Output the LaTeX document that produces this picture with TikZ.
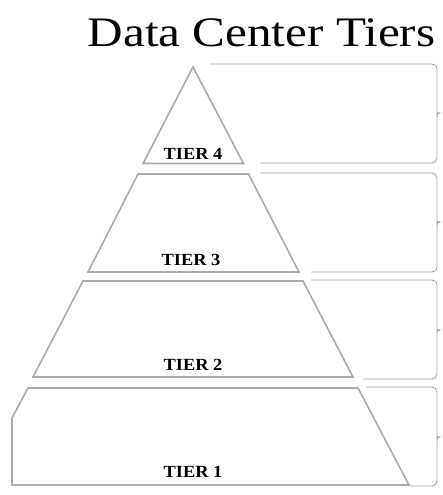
\documentclass[tikz,border=0pt]{standalone}
\usepackage{fontspec}
\setmainfont{Liberation Serif}
\tikzset{
  tierline/.style={draw=black!33, line width=1.6pt, line join=miter},
  braceline/.style={draw=black!35, line width=0.9pt, rounded corners=5pt},
  tierlabel/.style={font=\fontsize{17}{17}\selectfont\bfseries, text=black, anchor=base, inner sep=0pt, xscale=1.08, transform shape},
  titlelabel/.style={font=\fontsize{42}{42}\selectfont, text=black, anchor=base, inner sep=0pt, xscale=1.17, transform shape}
}
\newcommand\tierbrace[5]{% x1, ytop, x2, ybot, ymid
  \draw[braceline] (#1,#2) -- (437,#2) -- (437,#5-4) [sharp corners] .. controls (437,#5-1) and (437.5,#5) .. (439.8,#5)
     .. controls (437.5,#5) and (437,#5+1) .. (437,#5+4) [rounded corners=5pt] -- (437,#4) -- (#3,#4);
}
\begin{document}
\begin{tikzpicture}[x=1pt,y=-1pt]
\useasboundingbox (0,0) rectangle (443,495);
\node[titlelabel] (title) at (261.5,47) {Data Center Tiers};
% pyramid
\draw[tierline] (193,67) -- (243.5,163.5) -- (143,163.5) -- cycle;
\draw[tierline] (138,174) -- (248.5,174) -- (299,272) -- (88,272) -- cycle;
\draw[tierline] (83,281) -- (303,281) -- (353,377) -- (33,377) -- cycle;
\draw[tierline] (28,388) -- (358,388) -- (409,485) -- (12,485) -- (12,418) -- cycle;
% labels
\node[tierlabel] (t4) at (193,159.5) {TIER 4};
\node[tierlabel] (t3) at (191,265) {TIER 3};
\node[tierlabel] (t2) at (193,370) {TIER 2};
\node[tierlabel] (t1) at (193,477) {TIER 1};
% braces
\tierbrace{210}{64}{260}{163}{113}
\tierbrace{260}{173}{311}{272}{222}
\tierbrace{311}{280}{363}{379}{330}
\tierbrace{366}{387}{410}{486}{437}
\end{tikzpicture}
\end{document}
